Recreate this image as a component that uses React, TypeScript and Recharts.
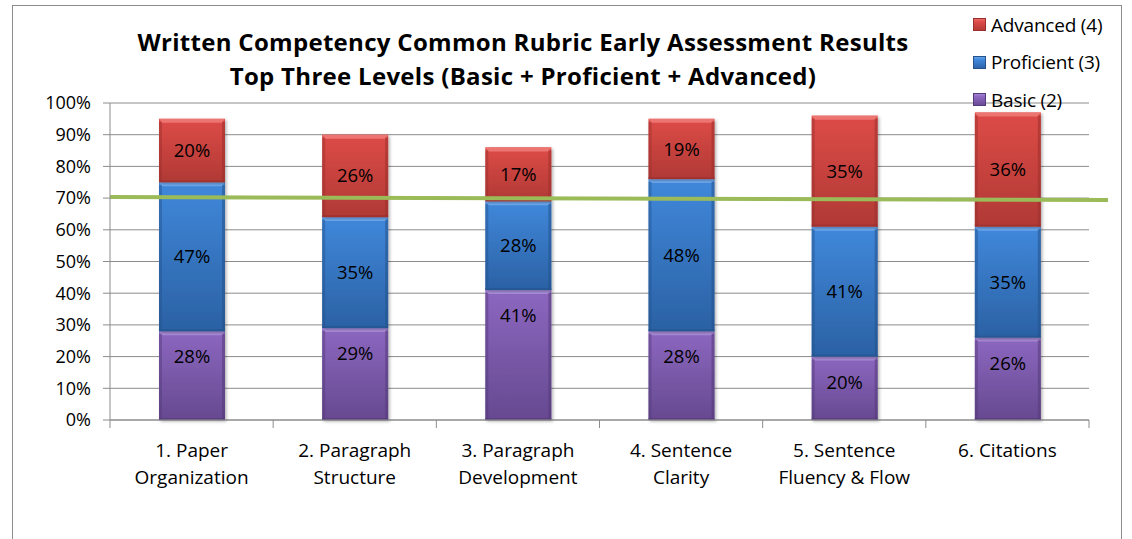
import { Bar, BarChart, CartesianGrid, LabelList, Legend, ReferenceLine, XAxis, YAxis } from 'recharts';

const categories = [
  '1. Paper\nOrganization',
  '2. Paragraph\nStructure',
  '3. Paragraph\nDevelopment',
  '4. Sentence\nClarity',
  '5. Sentence\nFluency & Flow',
  '6. Citations',
];
const basic = [28, 29, 41, 28, 20, 26];
const proficient = [47, 35, 28, 48, 41, 35];
const advanced = [20, 26, 17, 19, 35, 36];
const yTicks = [0, 10, 20, 30, 40, 50, 60, 70, 80, 90, 100];
const legendOrder = ['Advanced (4)', 'Proficient (3)', 'Basic (2)'];
const target = 70;

const FONT = "'Open Sans', 'Noto Sans', sans-serif";
const GRID = '#8c8c8c';

const TONES = {
  red: { top: '#dd4b47', bottom: '#b03935', light: '#ec7571', edge: '#9a2f2c' },
  blue: { top: '#4088db', bottom: '#2b61a4', light: '#6eaaf0', edge: '#24528b' },
  purple: { top: '#8c67c0', bottom: '#664990', light: '#ab8dda', edge: '#533a78' },
};
const toneOf: Record<string, keyof typeof TONES> = {
  'Advanced (4)': 'red',
  'Proficient (3)': 'blue',
  'Basic (2)': 'purple',
};

const data = categories.map((name, i) => ({
  name,
  basic: basic[i],
  proficient: proficient[i],
  advanced: advanced[i],
}));

function Bevel(props: any) {
  const { x, y, width, height, tone } = props;
  if (!height || height <= 0) return null;
  const t = TONES[tone as keyof typeof TONES];
  const b = 3;
  return (
    <g filter="url(#barShadow)">
      <rect x={x} y={y} width={width} height={height} fill={`url(#g-${tone})`} />
      <polygon
        points={`${x},${y} ${x + width},${y} ${x + width - b},${y + b + 1} ${x + b},${y + b + 1}`}
        fill={t.light}
      />
      <rect x={x} y={y + b} width={b} height={height - b} fill={t.edge} opacity={0.45} />
      <rect x={x + width - b} y={y + b} width={b} height={height - b} fill={t.edge} opacity={0.55} />
      <rect x={x} y={y + height - 2} width={width} height={2} fill={t.edge} opacity={0.6} />
    </g>
  );
}

function CatTick(props: any) {
  const { x, y, payload } = props;
  const half = payload.offset || 0;
  const lines = String(payload.value).split('\n');
  const axisY = y - 8;
  return (
    <g>
      <line x1={x - half} y1={axisY} x2={x - half} y2={axisY + 8} stroke={GRID} />
      {payload.index === categories.length - 1 && (
        <line x1={x + half} y1={axisY} x2={x + half} y2={axisY + 8} stroke={GRID} />
      )}
      <text x={x} y={y} textAnchor="middle" fontSize={19} fontFamily={FONT} fill="#000">
        {lines.map((l, i) => (
          <tspan key={i} x={x} dy={i === 0 ? 29 : 27}>
            {l}
          </tspan>
        ))}
      </text>
    </g>
  );
}

function LegendBox(props: any) {
  const items = [...(props.payload || [])].sort(
    (a: any, b: any) => legendOrder.indexOf(a.value) - legendOrder.indexOf(b.value)
  );
  return (
    <div style={{ fontFamily: FONT, fontSize: 19, color: '#000', letterSpacing: -0.2 }}>
      {items.map((it: any) => {
        const t = TONES[toneOf[it.value] || 'red'];
        return (
          <div key={it.value} style={{ display: 'flex', alignItems: 'center', height: 37.5 }}>
            <span
              style={{
                display: 'inline-block',
                width: 13,
                height: 13,
                marginRight: 5,
                background: `linear-gradient(${t.light}, ${t.top} 30%, ${t.bottom})`,
                boxShadow: `inset 0 0 0 1px ${t.edge}`,
              }}
            />
            {it.value}
          </div>
        );
      })}
    </div>
  );
}

const pct = (v: any) => `${v}%`;

export default function App() {
  return (
    <div
      style={{
        position: 'absolute',
        left: 0,
        top: 0,
        width: 1132,
        height: 539,
        overflow: 'hidden',
        background: '#fff',
      }}
    >
      <div
        style={{
          position: 'absolute',
          left: 12,
          top: 5,
          width: 1108,
          height: 600,
          border: '1px solid #8c8c8c',
        }}
      />
      <div
        style={{
          position: 'absolute',
          left: 0,
          top: 25,
          width: 1046,
          textAlign: 'center',
          fontFamily: FONT,
          fontWeight: 700,
          fontSize: 24,
          letterSpacing: 0.3,
          lineHeight: '34px',
          color: '#000',
        }}
      >
        <div>Written Competency Common Rubric Early Assessment Results</div>
        <div>Top Three Levels (Basic + Proficient + Advanced)</div>
      </div>
      <div style={{ position: 'absolute', left: 0, top: 0 }}>
        <BarChart
          width={1132}
          height={539}
          data={data}
          margin={{ top: 103, right: 43, left: 0, bottom: 0 }}
          barSize={66}
        >
          <defs>
            {Object.entries(TONES).map(([k, t]) => (
              <linearGradient key={k} id={`g-${k}`} x1="0" y1="0" x2="0" y2="1">
                <stop offset="0%" stopColor={t.top} />
                <stop offset="100%" stopColor={t.bottom} />
              </linearGradient>
            ))}
            <filter id="barShadow" x="-20%" y="-20%" width="140%" height="140%">
              <feDropShadow dx="1.5" dy="1.5" stdDeviation="1.5" floodColor="#000" floodOpacity="0.3" />
            </filter>
          </defs>
          <CartesianGrid vertical={false} stroke={GRID} />
          <XAxis
            dataKey="name"
            interval={0}
            height={119}
            tickLine={false}
            tickSize={8}
            tickMargin={0}
            axisLine={{ stroke: GRID }}
            tick={<CatTick />}
          />
          <YAxis
            width={110}
            domain={[0, 100]}
            ticks={yTicks}
            interval={0}
            tickFormatter={pct}
            tickSize={7}
            tickMargin={12}
            axisLine={{ stroke: GRID }}
            tickLine={{ stroke: GRID }}
            tick={{ fill: '#000', fontSize: 18, fontFamily: FONT }}
          />
          <Legend
            layout="vertical"
            align="center"
            verticalAlign="middle"
            content={<LegendBox />}
            wrapperStyle={{ left: 973, top: 6, width: 160, height: 115 }}
          />
          <Bar dataKey="basic" name="Basic (2)" stackId="s" fill={TONES.purple.top}
            shape={(p: any) => <Bevel {...p} tone="purple" />} isAnimationActive={false}>
            <LabelList dataKey="basic" position="insideTop" offset={19} formatter={pct}
              fill="#000" fontSize={18.5} fontFamily={FONT} />
          </Bar>
          <Bar dataKey="proficient" name="Proficient (3)" stackId="s" fill={TONES.blue.top}
            shape={(p: any) => <Bevel {...p} tone="blue" />} isAnimationActive={false}>
            <LabelList dataKey="proficient" position="center" formatter={pct}
              fill="#000" fontSize={18.5} fontFamily={FONT} />
          </Bar>
          <Bar dataKey="advanced" name="Advanced (4)" stackId="s" fill={TONES.red.top}
            shape={(p: any) => <Bevel {...p} tone="red" />} isAnimationActive={false}>
            <LabelList dataKey="advanced" position="center" formatter={pct}
              fill="#000" fontSize={18.5} fontFamily={FONT} />
          </Bar>
          <ReferenceLine
            y={target}
            ifOverflow="visible"
            shape={(p: any) => (
              <line x1={p.x1} y1={p.y1 - 1} x2={p.x2 + 19} y2={p.y2 + 2} stroke="#9bbb59" strokeWidth={4} />
            )}
          />
        </BarChart>
      </div>
    </div>
  );
}
